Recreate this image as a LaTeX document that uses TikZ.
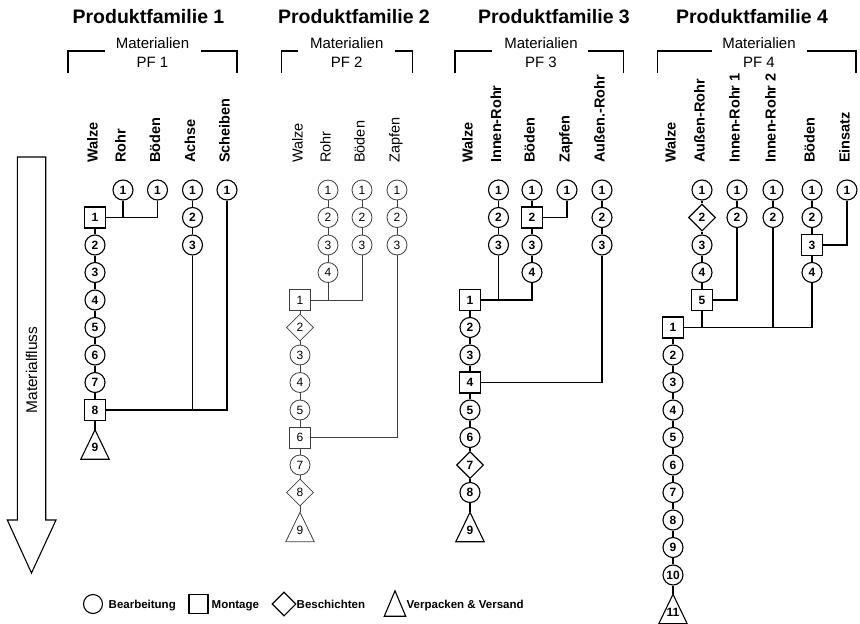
\documentclass[tikz,border=0pt]{standalone}
\usepackage{fontspec}
\setmainfont{Liberation Sans}
\usetikzlibrary{shapes.geometric}
\newcommand\fsz[1]{\fontsize{#1}{#1}\selectfont}
% packing/shipping triangle drawn on an invisible box node
\newcommand\shiptri[1]{\draw[lw,line join=miter] (#1.south west) -- (#1.north) -- (#1.south east) -- cycle;}
\begin{document}
\begin{tikzpicture}[x=1pt,y=-1pt,
  lw/.style={line width=1.1pt, draw=black},
  nf/.style={font=\fsz{12}\bfseries},
  lf/.style={font=\fsz{14.5}\bfseries},
  stage/.style={draw, lw, nf, inner sep=0pt, fill=white},
  op/.style={stage, circle, minimum size=20pt},
  asm/.style={stage, rectangle, minimum size=21pt},
  coat/.style={stage, diamond, minimum width=27pt, minimum height=27pt},
  ship/.style={nf, inner sep=0pt, minimum width=28pt, minimum height=29pt, text height=14pt, text depth=0pt},
  link/.style={lw},
  bracket/.style={line width=1.3pt, draw=black},
  title/.style={font=\fsz{19.5}\bfseries, inner sep=0pt},
  mat/.style={font=\fsz{15}, inner sep=0pt},
  part/.style={lf, rotate=90, anchor=mid west, inner sep=0pt},
  legendtext/.style={font=\fsz{11.5}\bfseries, anchor=base west, inner sep=0pt},
]
\useasboundingbox (0,0) rectangle (860,624);

% ---------------- material flow arrow ----------------
\draw[line width=1.1pt] (17.3,157) -- (45.7,157) -- (45.7,520) -- (56,520) -- (31.5,573)
  -- (7.3,520) -- (17.3,520) -- cycle;
\node[font=\fsz{15.5}, rotate=90, inner sep=0pt] (flow) at (31.5,370) {Materialfluss};

% ---------------- Produktfamilie 1 ----------------
\node[title] (t1) at (148.5,17) {Produktfamilie 1};
\node[mat] (m1a) at (152.5,43) {Materialien};
\node[mat] (m1b) at (152.5,62) {PF 1};
\draw[bracket] (68,73) -- (68,51) -- (105,51);
\draw[bracket] (201,51) -- (237,51) -- (237,73);
\node[part] (l1w) at (95,163) {Walze};
\node[part] (l1r) at (123,163) {Rohr};
\node[part] (l1b) at (157.5,163) {Böden};
\node[part] (l1a) at (192.5,163) {Achse};
\node[part] (l1s) at (227,163) {Scheiben};

\node[op] (p1r1) at (123,190) {1};
\node[op] (p1b1) at (157.5,190) {1};
\node[op] (p1a1) at (192.5,190) {1};
\node[op] (p1a2) at (192.5,217.5) {2};
\node[op] (p1a3) at (192.5,245) {3};
\node[op] (p1s1) at (227,190) {1};
\node[asm] (p1w1) at (95,217.5) {1};
\node[op] (p1w2) at (95,245) {2};
\node[op] (p1w3) at (95,272.5) {3};
\node[op] (p1w4) at (95,300) {4};
\node[op] (p1w5) at (95,327.5) {5};
\node[op] (p1w6) at (95,355) {6};
\node[op] (p1w7) at (95,382.5) {7};
\node[asm] (p1w8) at (95,410) {8};
\node[ship] (p1w9) at (95,444.5) {9};
\shiptri{p1w9}

\draw[link] (p1w1) -- (p1w2) -- (p1w3) -- (p1w4) -- (p1w5) -- (p1w6) -- (p1w7) -- (p1w8) -- (p1w9);
\draw[link] (p1r1) -- (p1r1 |- p1w1);
\draw[link] (p1w1) -- (p1b1 |- p1w1) -- (p1b1);
\draw[link] (p1a1) -- (p1a2) -- (p1a3) -- (p1a3 |- p1w8);
\draw[link] (p1w8) -- (p1s1 |- p1w8) -- (p1s1);

% ---------------- Produktfamilie 2 ----------------
\node[title] (t2) at (354,17) {Produktfamilie 2};
\node[mat] (m2a) at (346.7,43) {Materialien};
\node[mat] (m2b) at (346.7,62) {PF 2};
\draw[bracket] (281.7,73) -- (281.7,51) -- (298,51);
\draw[bracket] (395,51) -- (412.3,51) -- (412.3,73);
\begin{scope}
\tikzset{lw/.style={line width=0.8pt, draw=black!75},
         nf/.style={font=\fsz{12}},
         lf/.style={font=\fsz{14.5}}}
\node[part] (l2w) at (300,163) {Walze};
\node[part] (l2r) at (328,163) {Rohr};
\node[part] (l2b) at (362,163) {Böden};
\node[part] (l2z) at (397,163) {Zapfen};

\node[op] (p2r1) at (328,190) {1};
\node[op] (p2r2) at (328,217.5) {2};
\node[op] (p2r3) at (328,245) {3};
\node[op] (p2r4) at (328,272.5) {4};
\node[op] (p2b1) at (362,190) {1};
\node[op] (p2b2) at (362,217.5) {2};
\node[op] (p2b3) at (362,245) {3};
\node[op] (p2z1) at (397,190) {1};
\node[op] (p2z2) at (397,217.5) {2};
\node[op] (p2z3) at (397,245) {3};
\node[asm] (p2w1) at (300,300) {1};
\node[coat] (p2w2) at (300,327.5) {2};
\node[op] (p2w3) at (300,355) {3};
\node[op] (p2w4) at (300,382.5) {4};
\node[op] (p2w5) at (300,410) {5};
\node[asm] (p2w6) at (300,437.5) {6};
\node[op] (p2w7) at (300,465) {7};
\node[coat] (p2w8) at (300,492.5) {8};
\node[ship] (p2w9) at (300,527) {9};
\shiptri{p2w9}

\draw[link] (p2w1) -- (p2w2) -- (p2w3) -- (p2w4) -- (p2w5) -- (p2w6) -- (p2w7) -- (p2w8) -- (p2w9);
\draw[link] (p2r1) -- (p2r2) -- (p2r3) -- (p2r4) -- (p2r4 |- p2w1);
\draw[link] (p2b1) -- (p2b2) -- (p2b3);
\draw[link] (p2w1) -- (p2b3 |- p2w1) -- (p2b3);
\draw[link] (p2z1) -- (p2z2) -- (p2z3);
\draw[link] (p2w6) -- (p2z3 |- p2w6) -- (p2z3);
\end{scope}

% ---------------- Produktfamilie 3 ----------------
\node[title] (t3) at (554,17) {Produktfamilie 3};
\node[mat] (m3a) at (541,43) {Materialien};
\node[mat] (m3b) at (541,62) {PF 3};
\draw[bracket] (455,73) -- (455,51) -- (491.7,51);
\draw[bracket] (588.3,51) -- (623.3,51) -- (623.3,73);
\node[part] (l3w) at (470,163) {Walze};
\node[part] (l3i) at (498.5,163) {Innen-Rohr};
\node[part] (l3b) at (532,163) {Böden};
\node[part] (l3z) at (567,163) {Zapfen};
\node[part] (l3a) at (602,163) {Außen.-Rohr};

\node[op] (p3i1) at (498.5,190) {1};
\node[op] (p3i2) at (498.5,217.5) {2};
\node[op] (p3i3) at (498.5,245) {3};
\node[op] (p3b1) at (532,190) {1};
\node[asm] (p3b2) at (532,217.5) {2};
\node[op] (p3b3) at (532,245) {3};
\node[op] (p3b4) at (532,272.5) {4};
\node[op] (p3z1) at (567,190) {1};
\node[op] (p3a1) at (602,190) {1};
\node[op] (p3a2) at (602,217.5) {2};
\node[op] (p3a3) at (602,245) {3};
\node[asm] (p3w1) at (470,300) {1};
\node[op] (p3w2) at (470,327.5) {2};
\node[op] (p3w3) at (470,355) {3};
\node[asm] (p3w4) at (470,382.5) {4};
\node[op] (p3w5) at (470,410) {5};
\node[op] (p3w6) at (470,437.5) {6};
\node[coat] (p3w7) at (470,465) {7};
\node[op] (p3w8) at (470,492.5) {8};
\node[ship] (p3w9) at (470,527) {9};
\shiptri{p3w9}

\draw[link] (p3w1) -- (p3w2) -- (p3w3) -- (p3w4) -- (p3w5) -- (p3w6) -- (p3w7) -- (p3w8) -- (p3w9);
\draw[link] (p3i1) -- (p3i2) -- (p3i3) -- (p3i3 |- p3w1);
\draw[link] (p3b1) -- (p3b2) -- (p3b3) -- (p3b4);
\draw[link] (p3w1) -- (p3b4 |- p3w1) -- (p3b4);
\draw[link] (p3b2) -- (p3z1 |- p3b2) -- (p3z1);
\draw[link] (p3a1) -- (p3a2) -- (p3a3);
\draw[link] (p3w4) -- (p3a3 |- p3w4) -- (p3a3);

% ---------------- Produktfamilie 4 ----------------
\node[title] (t4) at (752,17) {Produktfamilie 4};
\node[mat] (m4a) at (759,43) {Materialien};
\node[mat] (m4b) at (759,62) {PF 4};
\draw[bracket] (657.3,73) -- (657.3,51) -- (711.7,51);
\draw[bracket] (806.7,51) -- (856,51) -- (856,73);
\node[part] (l4w) at (673,163) {Walze};
\node[part] (l4a) at (702,163) {Außen-Rohr};
\node[part] (l4i) at (737,163) {Innen-Rohr 1};
\node[part] (l4j) at (773,163) {Innen-Rohr 2};
\node[part] (l4b) at (812,163) {Böden};
\node[part] (l4e) at (847,163) {Einsatz};

\node[op] (p4a1) at (702,190) {1};
\node[coat] (p4a2) at (702,217.5) {2};
\node[op] (p4a3) at (702,245) {3};
\node[op] (p4a4) at (702,272.5) {4};
\node[asm] (p4a5) at (702,300) {5};
\node[op] (p4i1) at (737,190) {1};
\node[op] (p4i2) at (737,217.5) {2};
\node[op] (p4j1) at (773,190) {1};
\node[op] (p4j2) at (773,217.5) {2};
\node[op] (p4b1) at (812,190) {1};
\node[op] (p4b2) at (812,217.5) {2};
\node[asm] (p4b3) at (812,245) {3};
\node[op] (p4b4) at (812,272.5) {4};
\node[op] (p4e1) at (847,190) {1};
\node[asm] (p4w1) at (673,327.5) {1};
\node[op] (p4w2) at (673,355) {2};
\node[op] (p4w3) at (673,382.5) {3};
\node[op] (p4w4) at (673,410) {4};
\node[op] (p4w5) at (673,437.5) {5};
\node[op] (p4w6) at (673,465) {6};
\node[op] (p4w7) at (673,492.5) {7};
\node[op] (p4w8) at (673,520) {8};
\node[op] (p4w9) at (673,547.5) {9};
\node[op] (p4w10) at (673,575) {10};
\node[ship] (p4w11) at (673,609) {11};
\shiptri{p4w11}

\draw[link] (p4w1) -- (p4w2) -- (p4w3) -- (p4w4) -- (p4w5) -- (p4w6) -- (p4w7) -- (p4w8) -- (p4w9) -- (p4w10) -- (p4w11);
\draw[link] (p4a1) -- (p4a2) -- (p4a3) -- (p4a4) -- (p4a5) -- (p4a5 |- p4w1);
\draw[link] (p4i1) -- (p4i2);
\draw[link] (p4a5) -- (p4i2 |- p4a5) -- (p4i2);
\draw[link] (p4j1) -- (p4j2) -- (p4j2 |- p4w1);
\draw[link] (p4b1) -- (p4b2) -- (p4b3) -- (p4b4);
\draw[link] (p4b3) -- (p4e1 |- p4b3) -- (p4e1);
\draw[link] (p4w1) -- (p4b4 |- p4w1) -- (p4b4);

% ---------------- legend ----------------
\node[op, minimum size=19pt] (lg1) at (93,604) {};
\node[legendtext] (lt1) at (108.5,608.2) {Bearbeitung};
\node[asm, minimum size=19pt] (lg2) at (198.5,604) {};
\node[legendtext] (lt2) at (211.5,608.2) {Montage};
\node[coat, minimum width=24pt, minimum height=24pt] (lg3) at (284,604) {};
\node[legendtext] (lt3) at (296.5,608.2) {Beschichten};
\node[ship, minimum width=21pt, minimum height=25pt] (lg4) at (395,603.5) {};
\shiptri{lg4}
\node[legendtext] (lt4) at (406.5,608.2) {Verpacken \& Versand};
\end{tikzpicture}
\end{document}
